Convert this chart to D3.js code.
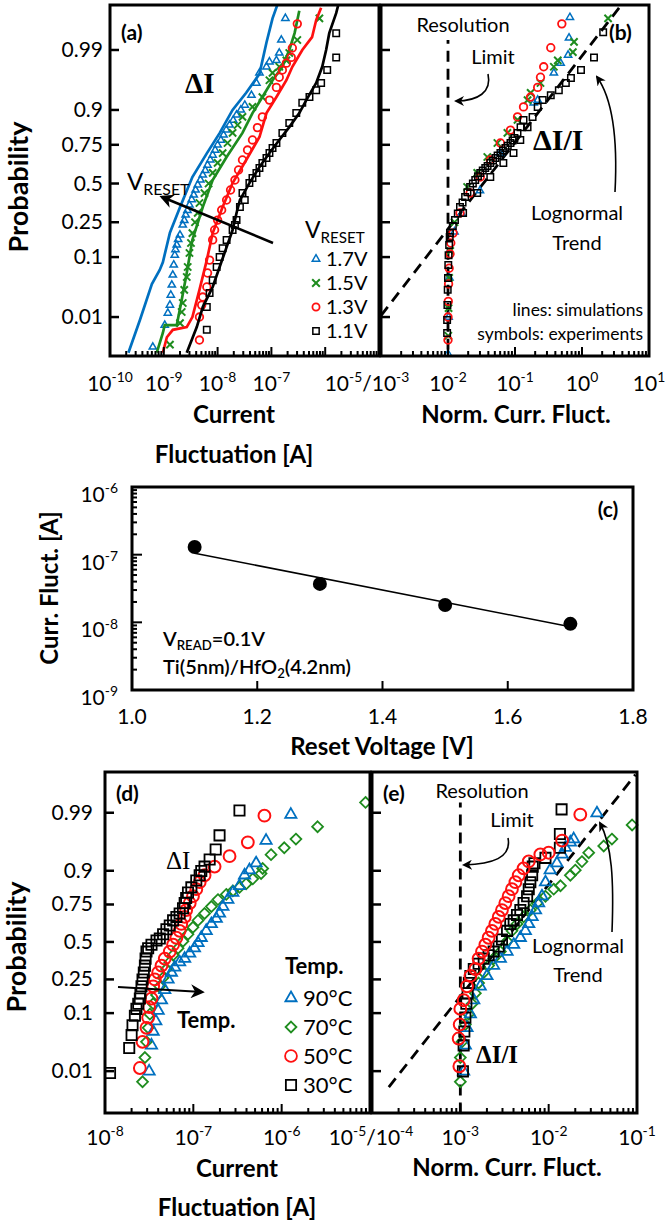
<!DOCTYPE html>
<html>
<head>
<meta charset="utf-8">
<script src="https://cdn.jsdelivr.net/npm/d3@7"></script>
<style>
  body { margin: 0; background: #fff; }
  text { font-family: Lato, "Open Sans", sans-serif; fill: #000; }
</style>
</head>
<body>
<svg id="fig" width="669" height="1231"></svg>
<script>
// ---- data: panel (a), current fluctuation vs probability, by reset voltage ----
// simulation lines [A, probability]
const aSim17 = [[2.2e-10,0.0016],[3.6e-10,0.0087],[6.0e-10,0.04],[8.4e-10,0.066],[9.6e-10,0.085],[1.3e-9,0.196],[2.0e-9,0.34],[3.4e-9,0.545],[6.3e-9,0.70],[1.09e-8,0.81],[1.9e-8,0.90],[3.4e-8,0.943],[6.0e-8,0.972],[8.1e-8,0.993],[1.05e-7,0.998],[1.3e-7,0.9991]];
const aSim15 = [[7.4e-10,0.0016],[9.6e-10,0.0046],[1.04e-9,0.0068],[1.74e-9,0.0068],[2.15e-9,0.0212],[2.67e-9,0.0595],[3.4e-9,0.163],[5.3e-9,0.341],[8.1e-9,0.524],[1.47e-8,0.678],[2.9e-8,0.811],[4.45e-8,0.89],[6.8e-8,0.934],[1.05e-7,0.964],[1.6e-7,0.979],[2.15e-7,0.99],[2.7e-7,0.9956],[3.3e-7,0.9987]];
const aSim13 = [[9.6e-10,0.0016],[1.14e-9,0.0037],[1.47e-9,0.0054],[2.67e-9,0.0062],[3.4e-9,0.01],[4.6e-9,0.032],[6.3e-9,0.091],[8.1e-9,0.194],[1.24e-8,0.341],[1.9e-8,0.503],[3.4e-8,0.659],[6.0e-8,0.791],[8.1e-8,0.89],[1.24e-7,0.934],[1.9e-7,0.964],[2.45e-7,0.979],[3.75e-7,0.99],[5.7e-7,0.9946],[6.8e-7,0.9978],[8.4e-7,0.9989]];
const aSim11 = [[2.67e-9,0.0016],[4.1e-9,0.0062],[5.3e-9,0.0157],[8.1e-9,0.0357],[1.09e-8,0.0729],[1.47e-8,0.134],[1.9e-8,0.209],[2.25e-8,0.304],[2.6e-8,0.387],[3.9e-8,0.503],[6.0e-8,0.613],[9.2e-8,0.702],[1.4e-7,0.776],[2.15e-7,0.837],[3.3e-7,0.89],[4.45e-7,0.927],[6.8e-7,0.96],[8.8e-7,0.979],[1.04e-6,0.99],[1.19e-6,0.9956],[1.6e-6,0.9985],[1.8e-6,0.9992]];
// experiments
const aExp17 = [[6.25e-10,0.0022],[1.04e-9,0.0068],[1.19e-9,0.012],[1.3e-9,0.0171],[1.35e-9,0.026],[1.41e-9,0.0385],[1.47e-9,0.0555],[1.53e-9,0.078],[1.6e-9,0.106],[1.65e-9,0.125],[1.74e-9,0.142],[1.85e-9,0.165],[2.0e-9,0.185],[2.25e-9,0.235],[2.4e-9,0.26],[2.55e-9,0.292],[2.75e-9,0.32],[3.0e-9,0.354],[3.3e-9,0.39],[3.6e-9,0.421],[3.9e-9,0.455],[4.27e-9,0.49],[4.8e-9,0.525],[5.3e-9,0.559],[5.9e-9,0.59],[6.5e-9,0.626],[7.3e-9,0.66],[8.1e-9,0.69],[9.0e-9,0.72],[1.0e-8,0.749],[1.15e-8,0.775],[1.29e-8,0.801],[1.45e-8,0.825],[1.67e-8,0.846],[1.95e-8,0.865],[2.25e-8,0.884],[2.7e-8,0.9],[3.2e-8,0.914],[4.26e-8,0.938],[5.27e-8,0.96],[6.0e-8,0.973],[8.1e-8,0.979],[9.2e-8,0.983],[1.24e-7,0.984],[1.4e-7,0.9885],[1.53e-7,0.9938],[1.82e-7,0.998]];
const aExp15 = [[1.3e-9,0.0025],[2.0e-9,0.0075],[2.15e-9,0.0126],[2.25e-9,0.0187],[2.4e-9,0.032],[2.67e-9,0.0517],[2.78e-9,0.0729],[3.0e-9,0.113],[3.2e-9,0.15],[3.4e-9,0.194],[3.8e-9,0.25],[4.27e-9,0.304],[4.6e-9,0.367],[5.7e-9,0.434],[6.8e-9,0.5],[8.1e-9,0.573],[1.0e-8,0.64],[1.24e-8,0.702],[1.53e-8,0.76],[1.9e-8,0.811],[2.35e-8,0.846],[2.9e-8,0.877],[4.45e-8,0.909],[6.8e-8,0.934],[9.2e-8,0.964],[1.05e-7,0.973],[1.4e-7,0.979],[1.9e-7,0.984],[2.15e-7,0.9885],[3.03e-7,0.9938],[7.8e-7,0.998]];
const aExp13 = [[4.6e-9,0.0032],[4.6e-9,0.01],[5.06e-9,0.0171],[5.3e-9,0.024],[6.3e-9,0.0357],[6.5e-9,0.0595],[7.1e-9,0.091],[8.1e-9,0.163],[8.8e-9,0.209],[1.0e-8,0.262],[1.19e-8,0.322],[1.47e-8,0.387],[1.74e-8,0.455],[2.1e-8,0.524],[2.45e-8,0.593],[2.9e-8,0.659],[3.6e-8,0.72],[4.45e-8,0.776],[5.5e-8,0.835],[6.8e-8,0.877],[9.2e-8,0.927],[1.24e-7,0.953],[1.4e-7,0.968],[1.6e-7,0.976],[1.9e-7,0.982],[2.34e-7,0.986],[2.45e-7,0.9909],[3.03e-7,0.9973]];
const aExp11 = [[6.3e-9,0.0054],[6.3e-9,0.0157],[7.1e-9,0.0282],[8.1e-9,0.046],[9.6e-9,0.0729],[1.09e-8,0.1],[1.24e-8,0.13],[1.47e-8,0.163],[1.9e-8,0.209],[2.1e-8,0.235],[2.25e-8,0.262],[2.6e-8,0.341],[3.2e-8,0.387],[2.9e-8,0.434],[3.9e-8,0.503],[4.45e-8,0.538],[5.27e-8,0.573],[6.0e-8,0.606],[6.8e-8,0.64],[8.1e-8,0.672],[9.2e-8,0.702],[1.05e-7,0.732],[1.24e-7,0.76],[1.6e-7,0.811],[2.15e-7,0.854],[2.9e-7,0.89],[3.75e-7,0.92],[5.1e-7,0.934],[6.8e-7,0.948],[8.4e-7,0.96],[1.09e-6,0.976],[1.6e-6,0.986],[1.6e-6,0.9956]];

// ---- panel (b), normalized fluctuation ----
const bExp17 = [[0.01,0.0015],[0.0102,0.01],[0.0105,0.05],[0.0125,0.2],[0.016,0.3],[0.03,0.45],[0.06,0.7],[0.19,0.92],[0.218,0.927],[0.38,0.973],[0.48,0.982],[0.62,0.9874],[0.64,0.9944],[0.66,0.9981]];
const bExp15 = [[0.0101,0.004],[0.0102,0.015],[0.0104,0.05],[0.0108,0.12],[0.0125,0.25],[0.0193,0.476],[0.0273,0.573],[0.0386,0.678],[0.0546,0.76],[0.077,0.811],[0.109,0.866],[0.154,0.927],[0.171,0.943],[0.24,0.96],[0.38,0.979],[0.435,0.984],[0.73,0.989],[0.76,0.9932],[2.45,0.998]];
const bExp13 = [[0.01,0.0032],[0.01,0.01],[0.0101,0.02],[0.0102,0.04],[0.0104,0.07],[0.0107,0.11],[0.011,0.15],[0.0119,0.194],[0.0151,0.304],[0.0214,0.434],[0.0303,0.545],[0.0428,0.659],[0.0606,0.76],[0.0856,0.824],[0.109,0.877],[0.134,0.909],[0.171,0.934],[0.218,0.953],[0.24,0.968],[0.268,0.979],[0.342,0.991],[0.5,0.9973]];
const bExp11 = [[0.0097,0.0046],[0.0097,0.0087],[0.0098,0.0171],[0.0099,0.032],[0.01,0.05],[0.0101,0.078],[0.0102,0.106],[0.0104,0.142],[0.0106,0.176],[0.0107,0.194],[0.0118,0.23],[0.0127,0.262],[0.014,0.3],[0.0151,0.341],[0.0165,0.37],[0.018,0.407],[0.0195,0.44],[0.0214,0.476],[0.0235,0.5],[0.0255,0.524],[0.028,0.55],[0.0303,0.573],[0.033,0.59],[0.036,0.606],[0.039,0.62],[0.0428,0.64],[0.047,0.655],[0.051,0.672],[0.055,0.688],[0.0606,0.702],[0.066,0.717],[0.072,0.732],[0.078,0.745],[0.0856,0.76],[0.092,0.773],[0.098,0.786],[0.109,0.811],[0.121,0.837],[0.134,0.866],[0.183,0.877],[0.218,0.909],[0.259,0.927],[0.342,0.938],[0.451,0.948],[0.574,0.96],[0.684,0.967],[0.966,0.976],[1.51,0.986],[2.07,0.9958],
    [0.0168,0.304],[0.0273,0.434],[0.0428,0.545],[0.067,0.64],[0.095,0.702],[0.12,0.776],[0.154,0.837]];
const bTrend = [[1.0e-3,0.0107],[3.86,0.99906]];
const bResolution = [[0.01,0.0019],[0.01,0.9938]];

// ---- panel (c), median fluctuation vs reset voltage ----
const cVoltage = [1.1, 1.3, 1.5, 1.7];
const cFluct = [1.3e-7, 3.7e-8, 1.8e-8, 9.5e-9];
const cFitVoltage = [1.1, 1.7];
const cFitFluct = [1.05e-7, 8.6e-9];
const cYTicks = [1e-9, 1e-8, 1e-7, 1e-6];
const cXTicks = [1.0, 1.2, 1.4, 1.6, 1.8];

// ---- panel (d), current fluctuation by temperature ----
const dT30 = [[1.14e-8,0.0091],[1.88e-8,0.028],[2.0e-8,0.047],[2.05e-8,0.067],[2.18e-8,0.092],[2.27e-8,0.114],[2.38e-8,0.133],[2.48e-8,0.154],[2.52e-8,0.178],[2.59e-8,0.212],[2.66e-8,0.25],[2.75e-8,0.291],[2.83e-8,0.335],[2.88e-8,0.382],[2.95e-8,0.431],[3.08e-8,0.455],[3.36e-8,0.48],[3.83e-8,0.51],[4.17e-8,0.525],[4.55e-8,0.555],[4.96e-8,0.591],[5.41e-8,0.616],[5.9e-8,0.651],[6.43e-8,0.674],[7.0e-8,0.696],[7.64e-8,0.728],[7.98e-8,0.758],[8.3e-8,0.786],[8.7e-8,0.813],[9.5e-8,0.837],[1.08e-7,0.866],[1.18e-7,0.885],[1.23e-7,0.899],[1.34e-7,0.9125],[1.53e-7,0.931],[1.79e-7,0.952],[1.98e-7,0.9725],[3.33e-7,0.991]];
const dT50 = [[2.48e-8,0.0116],[2.66e-8,0.036],[2.95e-8,0.061],[3.08e-8,0.0865],[3.16e-8,0.12],[3.36e-8,0.154],[3.51e-8,0.212],[3.66e-8,0.25],[4.0e-8,0.291],[4.36e-8,0.335],[4.75e-8,0.382],[5.41e-8,0.431],[5.9e-8,0.48],[6.43e-8,0.53],[7.0e-8,0.579],[7.3e-8,0.627],[7.98e-8,0.674],[8.3e-8,0.717],[9.1e-8,0.758],[9.9e-8,0.795],[1.08e-7,0.829],[1.18e-7,0.859],[1.34e-7,0.885],[1.74e-7,0.9125],[2.57e-7,0.9387],[4.14e-7,0.9636],[6.38e-7,0.9885]];
const dT70 = [[2.66e-8,0.0059],[2.83e-8,0.0187],[2.95e-8,0.036],[3.08e-8,0.061],[3.22e-8,0.0968],[3.51e-8,0.133],[3.83e-8,0.17],[4.17e-8,0.212],[4.55e-8,0.26],[4.96e-8,0.313],[5.41e-8,0.358],[5.9e-8,0.406],[6.72e-8,0.455],[7.64e-8,0.505],[8.7e-8,0.555],[9.9e-8,0.604],[1.13e-7,0.651],[1.34e-7,0.696],[1.6e-7,0.738],[1.9e-7,0.777],[2.36e-7,0.804],[2.8e-7,0.821],[3.33e-7,0.837],[3.96e-7,0.852],[4.71e-7,0.872],[5.85e-7,0.891],[6.1e-7,0.907],[7.58e-7,0.942],[1.07e-6,0.955],[1.45e-6,0.968],[2.55e-6,0.981],[8.9e-6,0.994]];
const dT90 = [[3.16e-8,0.0099],[3.36e-8,0.0313],[3.51e-8,0.0534],[3.76e-8,0.0771],[4.0e-8,0.108],[4.36e-8,0.147],[4.75e-8,0.194],[5.18e-8,0.25],[5.65e-8,0.291],[6.16e-8,0.324],[7.0e-8,0.358],[7.98e-8,0.382],[9.1e-8,0.418],[1.03e-7,0.455],[1.13e-7,0.493],[1.23e-7,0.53],[1.4e-7,0.579],[1.6e-7,0.627],[1.82e-7,0.662],[1.98e-7,0.696],[2.16e-7,0.738],[2.46e-7,0.777],[2.8e-7,0.813],[3.33e-7,0.844],[3.8e-7,0.885],[4.32e-7,0.902],[5.14e-7,0.922],[6.66e-7,0.966],[1.27e-6,0.9891]];

// ---- panel (e), normalized fluctuation by temperature ----
const eT30 = [[1.07e-3,0.0099],[1.09e-3,0.0313],[1.11e-3,0.0534],[1.14e-3,0.0865],[1.17e-3,0.133],[1.21e-3,0.178],[1.25e-3,0.23],[1.3e-3,0.27],[1.42e-3,0.313],[1.61e-3,0.347],[1.84e-3,0.382],[2.09e-3,0.406],[2.38e-3,0.431],[2.72e-3,0.468],[2.96e-3,0.517],[3.38e-3,0.579],[3.68e-3,0.627],[4.02e-3,0.651],[4.38e-3,0.686],[4.78e-3,0.717],[5.2e-3,0.758],[5.7e-3,0.795],[5.95e-3,0.829],[6.2e-3,0.859],[6.5e-3,0.885],[6.6e-3,0.9125],[6.9e-3,0.922],[9.2e-3,0.935],[1.34e-2,0.955],[1.34e-2,0.974],[1.4e-2,0.9915]];
const eT50 = [[0.975e-3,0.0126],[0.957e-3,0.041],[0.983e-3,0.0685],[1.0e-3,0.114],[1.09e-3,0.147],[1.19e-3,0.212],[1.3e-3,0.27],[1.48e-3,0.313],[1.61e-3,0.382],[1.76e-3,0.431],[1.92e-3,0.48],[2.09e-3,0.53],[2.28e-3,0.579],[2.49e-3,0.627],[2.72e-3,0.674],[2.96e-3,0.717],[3.23e-3,0.758],[3.52e-3,0.795],[3.84e-3,0.829],[4.2e-3,0.859],[4.58e-3,0.885],[5.2e-3,0.9074],[5.95e-3,0.9265],[8.05e-3,0.9424],[1.0e-2,0.9459],[1.42e-2,0.966],[2.28e-2,0.9891]];
const eT70 = [[1.0e-3,0.0059],[1.0e-3,0.0187],[1.045e-3,0.036],[1.14e-3,0.0685],[1.24e-3,0.0968],[1.36e-3,0.133],[1.48e-3,0.178],[1.61e-3,0.23],[1.84e-3,0.291],[2.09e-3,0.335],[2.38e-3,0.382],[2.84e-3,0.431],[3.38e-3,0.505],[3.84e-3,0.579],[4.38e-3,0.627],[5.2e-3,0.674],[6.2e-3,0.717],[7.4e-3,0.758],[9.2e-3,0.795],[1.14e-2,0.829],[1.36e-2,0.844],[1.76e-2,0.885],[2.0e-2,0.902],[2.38e-2,0.926],[2.84e-2,0.9459],[4.2e-2,0.958],[5.2e-2,0.968],[8.8e-2,0.9824]];
const eT90 = [[1.09e-3,0.0099],[1.14e-3,0.0313],[1.19e-3,0.061],[1.3e-3,0.0968],[1.42e-3,0.147],[1.68e-3,0.212],[2.0e-3,0.27],[2.38e-3,0.335],[2.84e-3,0.382],[3.38e-3,0.431],[4.02e-3,0.48],[4.78e-3,0.53],[5.45e-3,0.579],[5.95e-3,0.627],[6.5e-3,0.674],[7.1e-3,0.717],[7.7e-3,0.758],[8.4e-3,0.795],[9.2e-3,0.859],[1.04e-2,0.902],[1.24e-2,0.922],[1.42e-2,0.9424],[1.55e-2,0.9554],[1.76e-2,0.9636],[1.92e-2,0.968],[3.52e-2,0.9898]];
const eTrend = [[1.55e-4,0.0045],[9.6e-2,0.9987]];
const eResolution = [[1e-3,0.001],[1e-3,0.994]];

const probTicks = [0.01, 0.1, 0.25, 0.5, 0.75, 0.9, 0.99];
const probTickLabels = ["0.01", "0.1", "0.25", "0.5", "0.75", "0.9", "0.99"];

const COL = { blue: "#0070c0", green: "#1e8c1e", red: "#ff1010", black: "#000" };

// inverse normal cdf (Acklam)
function probit(p) {
    const a = [-3.969683028665376e+01, 2.209460984245205e+02, -2.759285104469687e+02, 1.383577518672690e+02, -3.066479806614716e+01, 2.506628277459239e+00];
    const b = [-5.447609879822406e+01, 1.615858368580409e+02, -1.556989798598866e+02, 6.680131188771972e+01, -1.328068155288572e+01];
    const c = [-7.784894002430293e-03, -3.223964580411365e-01, -2.400758277161838e+00, -2.549732539343734e+00, 4.374664141464968e+00, 2.938163982698783e+00];
    const d = [7.784695709041462e-03, 3.224671290700398e-01, 2.445134137142996e+00, 3.754408661907416e+00];
    const pl = 0.02425;
    if (p < pl) {
        const q = Math.sqrt(-2 * Math.log(p));
        return (((((c[0]*q+c[1])*q+c[2])*q+c[3])*q+c[4])*q+c[5]) / ((((d[0]*q+d[1])*q+d[2])*q+d[3])*q+1);
    }
    if (p > 1 - pl) {
        const q = Math.sqrt(-2 * Math.log(1 - p));
        return -(((((c[0]*q+c[1])*q+c[2])*q+c[3])*q+c[4])*q+c[5]) / ((((d[0]*q+d[1])*q+d[2])*q+d[3])*q+1);
    }
    const q = p - 0.5, r = q * q;
    return (((((a[0]*r+a[1])*r+a[2])*r+a[3])*r+a[4])*r+a[5])*q / (((((b[0]*r+b[1])*r+b[2])*r+b[3])*r+b[4])*r+1);
}

const svg = d3.select("#fig");

const defs = svg.append("defs");
defs.append("marker").attr("id", "headBig")
    .attr("viewBox", "0 0 10 10").attr("refX", 8).attr("refY", 5)
    .attr("markerWidth", 14).attr("markerHeight", 14).attr("markerUnits", "userSpaceOnUse")
    .attr("orient", "auto")
    .append("path").attr("d", "M0,0 L10,5 L0,10 L3,5 Z").attr("fill", "#000");
defs.append("marker").attr("id", "headSmall")
    .attr("viewBox", "0 0 10 10").attr("refX", 8).attr("refY", 5)
    .attr("markerWidth", 10).attr("markerHeight", 10).attr("markerUnits", "userSpaceOnUse")
    .attr("orient", "auto")
    .append("path").attr("d", "M0,0 L10,5 L0,10 L3,5 Z").attr("fill", "#000");

// text with ^sup and _sub pieces
function rich(g, x, y, pieces, size, opts = {}) {
    const t = g.append("text").attr("x", x).attr("y", y)
        .attr("text-anchor", opts.anchor || "start")
        .style("font-size", size + "px")
        .style("font-weight", opts.weight || "normal");
    if (opts.family) t.style("font-family", opts.family);
    if (opts.rotate) t.attr("transform", `rotate(${opts.rotate},${x},${y})`);
    let shift = 0;
    pieces.forEach(p => {
        let target = 0, s = size, txt = p;
        if (p[0] === "^") { target = -0.42 * size; s = size * 0.66; txt = p.slice(1); }
        else if (p[0] === "_") { target = 0.22 * size; s = size * 0.66; txt = p.slice(1); }
        t.append("tspan").attr("dy", target - shift).style("font-size", s + "px").text(txt);
        shift = target;
    });
    return t;
}

function probPanel(o) {
    const x = d3.scaleLog().domain(o.xDomain).range([o.left, o.right]);
    const z = d3.scaleLinear().domain(o.zDomain).range([o.bottom, o.top]);
    const y = p => z(probit(p));
    const g = svg.append("g");
    defs.append("clipPath").attr("id", "clip-" + o.id)
        .append("rect").attr("x", o.left).attr("y", o.top)
        .attr("width", o.right - o.left).attr("height", o.bottom - o.top);
    const data = g.append("g");
    const frame = g.append("g");

    probTicks.forEach(p => {
        frame.append("line")
            .attr("x1", o.left).attr("x2", o.left + 9)
            .attr("y1", y(p)).attr("y2", y(p))
            .attr("stroke", "#000").attr("stroke-width", 2.5);
    });
    x.ticks().forEach(v => {
        const e = Math.log10(v);
        const major = Math.abs(e - Math.round(e)) < 1e-9;
        frame.append("line")
            .attr("x1", x(v)).attr("x2", x(v))
            .attr("y1", o.bottom).attr("y2", o.bottom - (major ? 9 : 5))
            .attr("stroke", "#000").attr("stroke-width", 2);
    });
    frame.append("rect")
        .attr("x", o.left).attr("y", o.top)
        .attr("width", o.right - o.left).attr("height", o.bottom - o.top)
        .attr("fill", "none").attr("stroke", "#000").attr("stroke-width", 3);

    return { x, y, data, frame, id: o.id, o };
}

function series(p, pts, sim, type, size, color, sw) {
    const g = p.data.append("g");
    g.selectAll("path").data(pts).join("path")
        .attr("transform", d => `translate(${p.x(d[0])},${p.y(d[1])})`)
        .attr("d", d3.symbol().type(type).size(size)())
        .attr("fill", "none").attr("stroke", color).attr("stroke-width", sw);
    if (sim) {
        g.append("path").datum(sim)
            .attr("clip-path", `url(#clip-${p.id})`)
            .attr("fill", "none").attr("stroke", color).attr("stroke-width", 2.7)
            .attr("d", d3.line().x(d => p.x(d[0])).y(d => p.y(d[1])));
    }
}

function dashed(p, pts) {
    p.data.append("path").datum(pts)
        .attr("clip-path", `url(#clip-${p.id})`)
        .attr("fill", "none").attr("stroke", "#000").attr("stroke-width", 2.8)
        .attr("stroke-dasharray", "11,7")
        .attr("d", d3.line().x(d => p.x(d[0])).y(d => p.y(d[1])));
}

function yLabels(p, xRight) {
    probTicks.forEach((v, i) => {
        p.frame.append("text").attr("x", xRight).attr("y", p.y(v) + 7)
            .attr("text-anchor", "end").style("font-size", "21px")
            .text(probTickLabels[i]);
    });
}

function xPowLabels(p, exps, yBase) {
    exps.forEach(e => rich(p.frame, p.x(Math.pow(10, e)), yBase, ["10", "^" + e], 21, { anchor: "middle" }));
}

// ---------------- panel (a) ----------------
const pa = probPanel({ id: "a", left: 110, right: 379, top: 5, bottom: 356, xDomain: [1e-10, 1e-5], zDomain: [-3.005, 3.11] });
series(pa, aExp17, aSim17, d3.symbolTriangle2, 38, COL.blue, 1.5);
series(pa, aExp15, aSim15, d3.symbolTimes, 36, COL.green, 2);
series(pa, aExp13, aSim13, d3.symbolCircle, 45, COL.red, 1.8);
series(pa, aExp11, aSim11, d3.symbolSquare, 42, COL.black, 1.5);
yLabels(pa, 103);
xPowLabels(pa, [-10, -9, -8, -7], 391);
rich(pa.frame, 121, 40, ["(a)"], 21, { weight: "bold" });
rich(pa.frame, 185, 93, ["ΔI"], 29, { weight: "bold", family: "'Liberation Serif', serif" });
rich(pa.frame, 127, 190, ["V", "_RESET"], 24);
pa.frame.append("line").attr("x1", 273).attr("y1", 243).attr("x2", 162).attr("y2", 197)
    .attr("stroke", "#000").attr("stroke-width", 2.5).attr("marker-end", "url(#headBig)");
// legend
const aLegend = [["1.7V", d3.symbolTriangle2, COL.blue, 1.5], ["1.5V", d3.symbolTimes, COL.green, 2], ["1.3V", d3.symbolCircle, COL.red, 1.8], ["1.1V", d3.symbolSquare, COL.black, 1.5]];
rich(pa.frame, 305, 238, ["V", "_RESET"], 23);
aLegend.forEach((d, i) => {
    const cy = 259 + i * 24;
    pa.frame.append("path").attr("transform", `translate(316,${cy})`)
        .attr("d", d3.symbol().type(d[1]).size(40)())
        .attr("fill", "none").attr("stroke", d[2]).attr("stroke-width", d[3]);
    rich(pa.frame, 326, cy + 7, [d[0]], 20);
});

// ---------------- panel (b) ----------------
const pb = probPanel({ id: "b", left: 381, right: 649, top: 5, bottom: 356, xDomain: [1e-3, 10], zDomain: [-3.005, 3.11] });
dashed(pb, bTrend);
dashed(pb, bResolution);
series(pb, bExp17, null, d3.symbolTriangle2, 38, COL.blue, 1.5);
series(pb, bExp15, null, d3.symbolTimes, 36, COL.green, 2);
series(pb, bExp13, null, d3.symbolCircle, 45, COL.red, 1.8);
series(pb, bExp11, null, d3.symbolSquare, 42, COL.black, 1.5);
xPowLabels(pb, [-2, -1, 0, 1], 391);
rich(pb.frame, 367, 391, ["10", "^-5", "/10", "^-3"], 21, { anchor: "middle" });
rich(pb.frame, 463, 32, ["Resolution"], 20, { anchor: "middle" });
rich(pb.frame, 493, 64, ["Limit"], 20, { anchor: "middle" });
pb.frame.append("path").attr("d", "M488,74 C492,92 478,101 456,101")
    .attr("fill", "none").attr("stroke", "#000").attr("stroke-width", 1.6).attr("marker-end", "url(#headSmall)");
rich(pb.frame, 609, 40, ["(b)"], 21, { weight: "bold" });
rich(pb.frame, 533, 150, ["ΔI/I"], 30, { weight: "bold", family: "'Liberation Serif', serif" });
rich(pb.frame, 577, 220, ["Lognormal"], 20, { anchor: "middle" });
rich(pb.frame, 577, 250, ["Trend"], 20, { anchor: "middle" });
pb.frame.append("path").attr("d", "M615,192 C618,135 612,98 597,77")
    .attr("fill", "none").attr("stroke", "#000").attr("stroke-width", 1.6).attr("marker-end", "url(#headSmall)");
rich(pb.frame, 643, 316, ["lines: simulations"], 17.5, { anchor: "end" });
rich(pb.frame, 643, 340, ["symbols: experiments"], 17.5, { anchor: "end" });

// axis titles (a)/(b)
rich(svg, 28, 187, ["Probability"], 27, { anchor: "middle", weight: "bold", rotate: -90 });
rich(svg, 234, 423, ["Current"], 24, { anchor: "middle", weight: "bold" });
rich(svg, 234, 463, ["Fluctuation [A]"], 24, { anchor: "middle", weight: "bold" });
rich(svg, 516, 423, ["Norm. Curr. Fluct."], 24, { anchor: "middle", weight: "bold" });

// ---------------- panel (c) ----------------
const cx = d3.scaleLinear().domain([1.0, 1.8]).range([132, 633]);
const cy = d3.scaleLog().domain([1e-9, 1e-6]).range([690, 487]);
const gc = svg.append("g");
cy.ticks().forEach(v => {
    const e = Math.log10(v);
    const major = Math.abs(e - Math.round(e)) < 1e-9;
    gc.append("line").attr("x1", 132).attr("x2", 132 + (major ? 10 : 5))
        .attr("y1", cy(v)).attr("y2", cy(v)).attr("stroke", "#000").attr("stroke-width", 2);
});
cXTicks.slice(1, -1).forEach(v => {
    gc.append("line").attr("x1", cx(v)).attr("x2", cx(v)).attr("y1", 690).attr("y2", 681)
        .attr("stroke", "#000").attr("stroke-width", 2);
});
gc.append("path")
    .datum(cFitVoltage.map((v, i) => [v, cFitFluct[i]]))
    .attr("fill", "none").attr("stroke", "#000").attr("stroke-width", 1.6)
    .attr("d", d3.line().x(d => cx(d[0])).y(d => cy(d[1])));
gc.selectAll("circle.pt").data(cVoltage.map((v, i) => [v, cFluct[i]])).join("circle")
    .attr("class", "pt").attr("cx", d => cx(d[0])).attr("cy", d => cy(d[1])).attr("r", 7).attr("fill", "#000");
gc.append("rect").attr("x", 132).attr("y", 487).attr("width", 633 - 132).attr("height", 690 - 487)
    .attr("fill", "none").attr("stroke", "#000").attr("stroke-width", 3);
cYTicks.forEach(v => rich(gc, 118, cy(v) + 15, ["10", "^" + Math.round(Math.log10(v))], 21, { anchor: "end" }));
cXTicks.forEach(v => rich(gc, cx(v), 724, [v.toFixed(1)], 21, { anchor: "middle" }));
rich(gc, 608, 517, ["(c)"], 21, { anchor: "middle", weight: "bold" });
rich(gc, 163, 646, ["V", "_READ", "=0.1V"], 20, { weight: 600 });
rich(gc, 163, 674, ["Ti(5nm)/HfO", "_2", "(4.2nm)"], 20, { weight: 600 });
rich(gc, 382, 755, ["Reset Voltage [V]"], 24, { anchor: "middle", weight: "bold" });
rich(gc, 58, 588, ["Curr. Fluct. [A]"], 24, { anchor: "middle", weight: "bold", rotate: -90 });

// ---------------- panel (d) ----------------
const pd = probPanel({ id: "d", left: 105, right: 370, top: 772, bottom: 1113, xDomain: [1e-8, 1e-5], zDomain: [-3.08, 3.06] });
series(pd, dT70, null, d3.symbolDiamond2, 75, COL.green, 1.8);
series(pd, dT90, null, d3.symbolTriangle2, 90, COL.blue, 1.8);
series(pd, dT50, null, d3.symbolCircle, 110, COL.red, 2);
series(pd, dT30, null, d3.symbolSquare, 105, COL.black, 1.8);
yLabels(pd, 93);
xPowLabels(pd, [-8, -7, -6], 1145);
rich(pd.frame, 116, 801, ["(d)"], 21, { weight: "bold" });
rich(pd.frame, 166, 869, ["ΔI"], 25, { family: "'Liberation Serif', serif" });
pd.frame.append("line").attr("x1", 118).attr("y1", 987).attr("x2", 202).attr("y2", 992)
    .attr("stroke", "#000").attr("stroke-width", 2.2).attr("marker-end", "url(#headBig)");
rich(pd.frame, 177, 1028, ["Temp."], 22, { weight: "bold" });
const dLegend = [["90°C", d3.symbolTriangle2, COL.blue, 90], ["70°C", d3.symbolDiamond2, COL.green, 75], ["50°C", d3.symbolCircle, COL.red, 110], ["30°C", d3.symbolSquare, COL.black, 105]];
rich(pd.frame, 285, 974, ["Temp."], 22, { weight: "bold" });
dLegend.forEach((d, i) => {
    const yy = 998 + i * 29;
    pd.frame.append("path").attr("transform", `translate(291,${yy})`)
        .attr("d", d3.symbol().type(d[1]).size(d[3])())
        .attr("fill", "none").attr("stroke", d[2]).attr("stroke-width", 1.8);
    rich(pd.frame, 303, yy + 8, [d[0]], 22);
});

// ---------------- panel (e) ----------------
const pe = probPanel({ id: "e", left: 372, right: 637, top: 772, bottom: 1113, xDomain: [1e-4, 1e-1], zDomain: [-3.08, 3.06] });
dashed(pe, eTrend);
dashed(pe, eResolution);
series(pe, eT70, null, d3.symbolDiamond2, 75, COL.green, 1.8);
series(pe, eT90, null, d3.symbolTriangle2, 90, COL.blue, 1.8);
series(pe, eT30, null, d3.symbolSquare, 105, COL.black, 1.8);
series(pe, eT50, null, d3.symbolCircle, 110, COL.red, 2);
xPowLabels(pe, [-3, -2, -1], 1145);
rich(pe.frame, 371, 1145, ["10", "^-5", "/10", "^-4"], 21, { anchor: "middle" });
rich(pe.frame, 383, 801, ["(e)"], 21, { weight: "bold" });
rich(pe.frame, 482, 798, ["Resolution"], 20, { anchor: "middle" });
rich(pe.frame, 512, 827, ["Limit"], 20, { anchor: "middle" });
pe.frame.append("path").attr("d", "M508,838 C512,858 492,864 464,865")
    .attr("fill", "none").attr("stroke", "#000").attr("stroke-width", 1.6).attr("marker-end", "url(#headSmall)");
rich(pe.frame, 578, 953, ["Lognormal"], 20, { anchor: "middle" });
rich(pe.frame, 578, 982, ["Trend"], 20, { anchor: "middle" });
pe.frame.append("path").attr("d", "M612,932 C614,880 612,845 600,823")
    .attr("fill", "none").attr("stroke", "#000").attr("stroke-width", 1.6).attr("marker-end", "url(#headSmall)");
rich(pe.frame, 476, 1063, ["ΔI/I"], 25, { weight: "bold", family: "'Liberation Serif', serif" });

// axis titles (d)/(e)
rich(svg, 26, 947, ["Probability"], 27, { anchor: "middle", weight: "bold", rotate: -90 });
rich(svg, 237, 1177, ["Current"], 24, { anchor: "middle", weight: "bold" });
rich(svg, 237, 1216, ["Fluctuation [A]"], 24, { anchor: "middle", weight: "bold" });
rich(svg, 507, 1176, ["Norm. Curr. Fluct."], 24, { anchor: "middle", weight: "bold" });
</script>
</body>
</html>
